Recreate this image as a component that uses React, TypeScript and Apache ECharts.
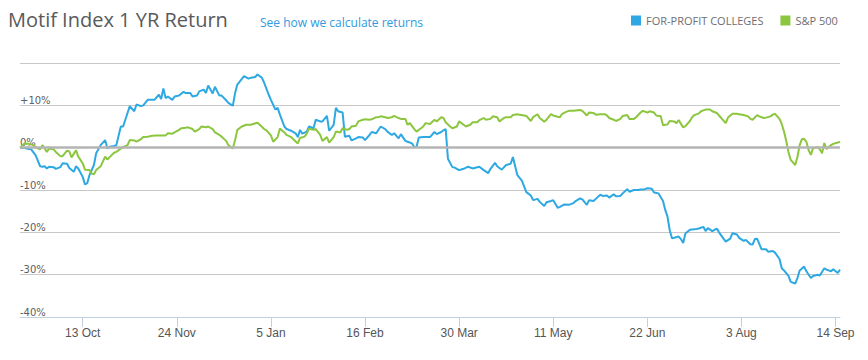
import React, { useEffect, useRef } from "react";
import * as echarts from "echarts";

// Days counted from 15 Sep 2014
const tickDays = [28, 70, 112, 154, 196, 238, 280, 322, 364];
const tickLabels = ["13 Oct", "24 Nov", "5 Jan", "16 Feb", "30 Mar", "11 May", "22 Jun", "3 Aug", "14 Sep"];

const blueDays = [
  0, 2, 4, 5, 7, 9, 10, 11, 12, 13,
  15, 16, 18, 19, 21, 22, 24, 25, 26, 28,
  29, 30, 31, 33, 34, 36, 38, 39, 40, 42,
  43, 45, 46, 48, 49, 51, 52, 54, 55, 57,
  59, 60, 62, 63, 64, 65, 66, 68, 69, 71,
  73, 74, 76, 77, 79, 80, 82, 83, 84, 86,
  87, 89, 90, 92, 93, 95, 96, 97, 100, 102,
  103, 105, 106, 108, 109, 111, 112, 114, 115, 116,
  118, 119, 121, 123, 124, 125, 126, 128, 129, 131,
  132, 134, 135, 137, 138, 140, 141, 142, 144, 145,
  147, 148, 150, 151, 153, 154, 156, 157, 159, 161,
  163, 164, 166, 167, 169, 170, 172, 173, 175, 176,
  177, 178, 180, 182, 183, 185, 186, 188, 189, 190,
  191, 193, 194, 196, 198, 200, 202, 205, 207, 209,
  210, 212, 213, 215, 217, 219, 220, 222, 224, 226,
  228, 229, 231, 232, 234, 235, 237, 238, 240, 241,
  243, 245, 247, 248, 250, 251, 253, 254, 256, 257,
  259, 260, 262, 263, 265, 266, 268, 269, 271, 272,
  274, 276, 277, 279, 280, 282, 283, 285, 287, 288,
  289, 290, 291, 292, 294, 295, 296, 297, 299, 301,
  303, 305, 306, 307, 309, 311, 312, 314, 315, 317,
  318, 320, 321, 323, 324, 326, 327, 328, 329, 331,
  333, 334, 336, 337, 339, 340, 341, 343, 344, 346,
  347, 348, 350, 351, 353, 354, 356, 357, 359, 360,
  362, 363, 365, 366,
];
const blueValues = [
  0, -0.1, -0.3, -0.4, -1.8, -4.4, -4.5, -4.4, -4.9, -4.5,
  -4.6, -5.0, -4.6, -3.7, -3.8, -4.8, -5.7, -4.4, -4.9, -6.9,
  -8.7, -8.4, -6.5, -4.1, -1.3, 0.6, 1.8, -0.2, 0.2, 0.4,
  0.6, 5.0, 5.0, 8.2, 9.8, 8.6, 10.2, 9.8, 10.0, 11.3,
  11.3, 11.3, 12.5, 11.5, 14.0, 11.7, 12.1, 11.3, 12.1, 12.3,
  13.2, 12.9, 12.9, 12.1, 12.3, 13.3, 13.7, 12.9, 14.7, 12.8,
  14.4, 12.3, 12.3, 11.2, 10.6, 9.9, 12.9, 14.9, 16.9, 16.3,
  16.5, 16.7, 17.3, 16.5, 15.3, 12.5, 11.3, 9.0, 9.4, 7.8,
  5.0, 4.4, 4.0, 3.4, 2.5, 4.2, 3.3, 3.8, 5.0, 4.6,
  6.6, 6.2, 6.2, 7.5, 4.0, 5.4, 9.4, 8.6, 8.3, 2.6,
  2.8, 1.7, 2.2, 2.5, 2.4, 1.8, 3.0, 3.7, 3.4, 5.0,
  4.4, 3.8, 3.0, 3.4, 2.2, 3.2, 1.6, 1.4, 1.0, 0.1,
  0.2, 2.4, 2.5, 2.5, 2.5, 3.7, 3.2, 3.7, 4.1, 4.4,
  -2.6, -4.6, -4.7, -5.3, -5.0, -4.5, -4.9, -4.5, -5.3, -6.0,
  -5.0, -3.6, -4.4, -5.2, -4.1, -3.8, -2.2, -6.5, -7.8, -10.5,
  -11.3, -12.4, -12.1, -12.8, -13.8, -12.9, -12.6, -12.4, -14.2, -14.0,
  -13.4, -13.5, -13.1, -12.6, -12.0, -12.2, -13.5, -12.4, -12.6, -12.1,
  -11.1, -11.4, -11.3, -11.8, -11.0, -11.5, -11.4, -10.8, -9.8, -10.4,
  -10.0, -10.0, -9.9, -9.8, -9.6, -9.7, -10.6, -10.8, -12.6, -14.7,
  -16.3, -19.5, -21.4, -21.3, -21.0, -21.6, -22.5, -20.3, -19.4, -19.3,
  -19.1, -18.7, -19.7, -19.0, -19.7, -19.1, -20.0, -21.5, -22.2, -21.5,
  -20.2, -20.5, -21.3, -22.0, -21.8, -22.8, -22.9, -21.6, -21.5, -24.0,
  -24.0, -24.6, -24.4, -24.8, -26.3, -28.5, -29.0, -30.3, -31.7, -32.1,
  -30.8, -29.0, -28.1, -29.2, -30.8, -30.3, -30.0, -30.2, -28.5, -28.8,
  -29.2, -28.7, -29.6, -28.8,
];

const greenDays = [
  0, 2, 4, 6, 7, 9, 10, 12, 13, 15,
  16, 18, 19, 21, 22, 23, 25, 26, 28, 29,
  31, 32, 33, 34, 36, 38, 39, 41, 42, 43,
  45, 46, 48, 49, 51, 52, 54, 55, 57, 59,
  61, 63, 65, 66, 68, 69, 71, 72, 74, 75,
  77, 78, 80, 81, 83, 84, 86, 87, 89, 90,
  92, 93, 95, 96, 97, 99, 101, 103, 106, 107,
  109, 110, 112, 113, 115, 116, 118, 119, 121, 122,
  124, 125, 127, 128, 129, 131, 132, 134, 135, 137,
  138, 140, 141, 143, 144, 146, 147, 148, 150, 151,
  153, 154, 156, 157, 159, 160, 161, 163, 164, 166,
  167, 169, 170, 172, 173, 174, 176, 177, 179, 180,
  181, 183, 185, 186, 188, 189, 190, 192, 193, 195,
  196, 198, 199, 201, 202, 204, 205, 207, 208, 210,
  211, 213, 214, 216, 217, 219, 220, 222, 223, 225,
  226, 228, 229, 231, 232, 234, 235, 237, 238, 240,
  241, 242, 244, 245, 247, 248, 250, 251, 253, 254,
  256, 257, 259, 261, 262, 263, 265, 266, 268, 269,
  271, 272, 274, 275, 277, 278, 280, 281, 283, 284,
  286, 287, 289, 290, 292, 293, 294, 296, 297, 299,
  300, 301, 303, 304, 305, 306, 308, 309, 311, 312,
  314, 315, 316, 318, 320, 321, 323, 325, 326, 327,
  329, 330, 332, 333, 335, 336, 337, 339, 340, 341,
  342, 343, 344, 346, 347, 348, 349, 350, 351, 352,
  353, 354, 355, 356, 357, 358, 359, 360, 362, 363,
  365, 366,
];
const greenValues = [
  0, 1.0, 0.9, 0.6, 0.1, -0.4, 0.6, -1.0, -0.2, -0.4,
  -1.0, -2.0, -2.0, -0.7, -0.9, -2.3, -0.6, -2.1, -3.7, -5.2,
  -5.3, -6.1, -6.3, -5.3, -4.4, -2.1, -2.8, -1.7, -1.2, -1.0,
  -0.2, 0.1, 0.6, 1.8, 1.7, 1.4, 2.0, 2.5, 2.6, 2.8,
  2.9, 2.9, 2.9, 3.4, 3.3, 3.6, 4.2, 4.6, 4.7, 4.8,
  4.4, 3.8, 4.4, 5.0, 4.8, 5.0, 4.4, 3.6, 3.0, 2.6,
  1.6, 0.6, -0.2, 1.8, 4.2, 5.0, 5.4, 5.4, 5.9, 5.4,
  4.4, 4.1, 2.9, 1.4, 2.5, 4.5, 3.6, 3.0, 2.5, 2.0,
  1.0, 2.3, 2.6, 3.3, 4.5, 4.2, 4.4, 3.0, 1.6, 2.5,
  1.2, 2.5, 3.8, 3.6, 4.6, 4.2, 4.4, 5.0, 5.2, 6.2,
  6.6, 6.7, 6.6, 6.7, 7.2, 7.2, 7.4, 7.2, 7.0, 7.2,
  7.5, 7.0, 6.8, 6.8, 5.4, 5.8, 4.4, 3.8, 4.6, 5.0,
  5.8, 5.6, 6.6, 6.2, 7.2, 7.0, 6.0, 5.0, 4.6, 5.0,
  6.2, 5.4, 5.0, 5.4, 6.0, 6.0, 6.5, 7.0, 6.6, 6.8,
  7.4, 7.2, 6.2, 7.0, 7.2, 7.2, 7.7, 7.9, 7.8, 7.6,
  7.5, 6.3, 7.2, 7.9, 7.0, 6.1, 6.6, 7.9, 7.6, 7.3,
  7.2, 8.0, 8.5, 8.7, 8.7, 8.8, 8.9, 8.7, 7.6, 8.3,
  8.2, 7.8, 7.9, 7.9, 7.6, 7.0, 6.6, 6.3, 6.8, 7.5,
  7.7, 6.8, 6.8, 7.2, 8.3, 8.7, 8.3, 8.6, 8.3, 7.6,
  7.4, 5.3, 5.5, 6.3, 6.2, 5.8, 6.5, 4.8, 5.1, 6.3,
  7.2, 7.7, 8.1, 8.6, 8.8, 9.0, 9.0, 8.6, 8.2, 7.6,
  6.4, 5.8, 7.1, 8.0, 8.0, 7.9, 7.7, 7.4, 6.8, 6.6,
  7.7, 7.4, 7.0, 7.1, 7.4, 7.8, 8.0, 6.8, 5.6, 3.8,
  1.6, -1.0, -2.9, -4.1, -2.2, 0.6, 2.0, 2.1, 1.4, -0.6,
  -1.7, -0.1, 0.0, 0.2, -0.4, -1.3, 1.1, -0.3, 0.6, 0.9,
  1.2, 1.4,
];

const seriesNames = ["FOR-PROFIT COLLEGES", "S&P 500"];
const seriesColors = ["#2ea8e2", "#8cc63f"];

export default function App() {
  const ref = useRef<HTMLDivElement>(null);

  useEffect(() => {
    if (!ref.current) return;
    const chart = echarts.init(ref.current, null, { renderer: "svg" });
    const blueData = blueDays.map((d, i) => [d, blueValues[i]]);
    const greenData = greenDays.map((d, i) => [d, greenValues[i]]);

    chart.setOption({
      animation: false,
      title: [
        {
          text: "Motif Index 1 YR Return",
          left: 8,
          top: 9,
          padding: 0,
          textStyle: {
            fontFamily: "Open Sans",
            fontSize: 20,
            fontWeight: "normal",
            color: "#58595b",
          },
        },
        {
          text: "See how we calculate returns",
          left: 260,
          top: 16,
          padding: 0,
          textStyle: {
            fontFamily: "Open Sans",
            fontSize: 12,
            fontWeight: "normal",
            color: "#2f9be0",
          },
        },
      ],
      legend: {
        data: seriesNames,
        left: 631,
        top: 15,
        padding: 0,
        icon: "rect",
        itemWidth: 10,
        itemHeight: 10,
        itemGap: 17,
        selectedMode: false,
        textStyle: {
          fontFamily: "Open Sans",
          fontSize: 11,
          color: "#6d6e71",
          padding: [0, 0, 0, 0],
        },
      },
      grid: {
        left: 20,
        right: 28,
        top: 63,
        bottom: 43,
        containLabel: false,
        outerBoundsMode: "none",
      },
      xAxis: {
        type: "value",
        min: 0,
        max: 366,
        axisLine: { show: true, onZero: false, lineStyle: { color: "#c0d0e0", width: 1 } },
        axisTick: {
          show: true,
          length: 10,
          customValues: tickDays,
          lineStyle: { color: "#c0d0e0" },
        },
        axisLabel: {
          customValues: tickDays,
          margin: 10,
          fontFamily: "'Liberation Sans Narrow', 'Liberation Sans', sans-serif",
          fontSize: 12,
          color: "#555555",
          formatter: (v: number) => {
            const i = tickDays.indexOf(Math.round(v));
            return i >= 0 ? tickLabels[i] : "";
          },
        },
        splitLine: { show: false },
      },
      yAxis: {
        type: "value",
        min: -40,
        max: 20,
        interval: 10,
        axisLine: { show: false },
        axisTick: { show: false },
        axisLabel: {
          inside: true,
          margin: 0,
          verticalAlign: "bottom",
          fontFamily: "'DejaVu Sans', sans-serif",
          fontSize: 10,
          color: "#606060",
          formatter: (v: number) => {
            if (v >= 20) return "";
            if (v > 0) return "+" + v + "%";
            return v + "%";
          },
        },
        splitLine: { show: true, lineStyle: { color: "#c8c8c8", width: 1 } },
      },
      series: [
        {
          type: "line",
          data: [],
          z: 1,
          silent: true,
          markLine: {
            silent: true,
            symbol: "none",
            label: { show: false },
            lineStyle: { color: "#b4b4b4", width: 2.5, type: "solid" },
            data: [{ yAxis: 0 }],
          },
        },
        {
          name: seriesNames[0],
          type: "line",
          data: blueData,
          showSymbol: false,
          z: 3,
          color: seriesColors[0],
          lineStyle: { color: seriesColors[0], width: 2 },
        },
        {
          name: seriesNames[1],
          type: "line",
          data: greenData,
          showSymbol: false,
          z: 3,
          color: seriesColors[1],
          lineStyle: { color: seriesColors[1], width: 2 },
        },
      ],
    });
    return () => chart.dispose();
  }, []);

  return (
    <div
      ref={ref}
      style={{ position: "absolute", left: 0, top: 0, width: 868, height: 360, background: "#fff" }}
    />
  );
}
